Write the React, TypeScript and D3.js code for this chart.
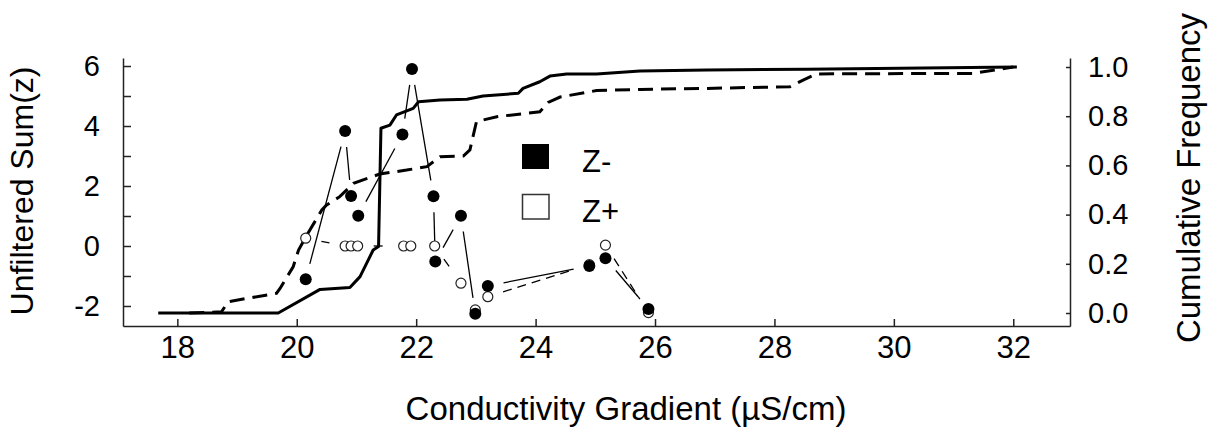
import React, { useEffect, useRef } from "react";
import * as d3 from "d3";

const WIDTH = 1215;
const HEIGHT = 434;
const FONT = "'Liberation Sans', Arial, sans-serif";

// cumulative frequency curves (right axis)
const solidX = [17.68, 19.69, 20.39, 20.89, 21.06, 21.28, 21.37, 21.41, 21.56, 21.67, 21.95, 22.04, 22.4, 22.85, 23.12, 23.71, 23.79, 24.07, 24.24, 24.52, 25.02, 25.75, 26.87, 28.54, 32.06];
const solidF = [0, 0, 0.096, 0.104, 0.148, 0.256, 0.27, 0.751, 0.764, 0.805, 0.832, 0.859, 0.866, 0.869, 0.882, 0.893, 0.913, 0.94, 0.963, 0.972, 0.972, 0.984, 0.988, 0.991, 1.0];
const dashX = [18.2, 18.74, 18.85, 19.66, 19.72, 19.94, 20.03, 20.17, 20.42, 20.5, 20.72, 20.95, 21.39, 21.84, 22.18, 22.4, 22.79, 22.9, 23.01, 23.35, 24.07, 24.21, 24.41, 25.02, 25.75, 26.87, 28.26, 28.48, 28.71, 31.33, 32.0];
const dashF = [0, 0.005, 0.046, 0.08, 0.1, 0.188, 0.256, 0.317, 0.419, 0.439, 0.473, 0.527, 0.565, 0.581, 0.595, 0.635, 0.638, 0.663, 0.778, 0.798, 0.818, 0.856, 0.878, 0.904, 0.909, 0.913, 0.92, 0.947, 0.972, 0.974, 1.0];

// unfiltered sum(z) points (left axis)
const zMinusX = [20.15, 20.81, 20.91, 21.03, 21.77, 21.93, 22.29, 22.32, 22.75, 22.99, 23.2, 24.9, 25.17, 25.89];
const zMinusY = [-1.11, 3.83, 1.67, 1.01, 3.72, 5.9, 1.66, -0.52, 1.01, -2.26, -1.33, -0.67, -0.41, -2.1];
const zPlusX = [20.15, 20.81, 20.91, 21.02, 21.79, 21.91, 22.31, 22.75, 22.99, 23.2, 24.9, 25.17, 25.89];
const zPlusY = [0.26, 0, 0, 0, 0, 0, 0, -1.24, -2.13, -1.69, -0.62, 0.03, -2.22];

const xTicks = [18, 20, 22, 24, 26, 28, 30, 32];
const leftTicks = [-2, -1, 0, 1, 2, 3, 4, 5, 6];
const rightTicks = [0, 0.2, 0.4, 0.6, 0.8, 1.0];

// segments between consecutive points, cut short near each marker
const gapped = (pts: number[][], gap: number) => {
  const segs: number[][] = [];
  for (let i = 1; i < pts.length; i++) {
    const [x1, y1] = pts[i - 1];
    const [x2, y2] = pts[i];
    const d = Math.hypot(x2 - x1, y2 - y1);
    if (d <= gap * 2) continue;
    const ux = (x2 - x1) / d, uy = (y2 - y1) / d;
    segs.push([x1 + ux * gap, y1 + uy * gap, x2 - ux * gap, y2 - uy * gap]);
  }
  return segs;
};

const App = () => {
  const ref = useRef<SVGSVGElement>(null);

  useEffect(() => {
    const svg = d3.select(ref.current);
    svg.selectAll("*").remove();

    const x = d3.scaleLinear().domain([17.09, 32.95]).range([123, 1070]);
    const yL = d3.scaleLinear().domain([-2.667, 6.267]).range([326, 58]);
    const yR = d3.scaleLinear().domain([-0.0528, 1.0366]).range([326, 58]);

    const styleAxis = (g: any, size: number) => {
      g.attr("font-family", FONT).attr("font-size", size);
      g.selectAll("path, line").attr("stroke", "#222").attr("stroke-width", 1.5);
      g.selectAll("text").attr("fill", "#000");
    };

    const gx = svg
      .append("g")
      .attr("transform", "translate(0,326)")
      .call(d3.axisBottom(x).tickValues(xTicks).tickSize(-7).tickSizeOuter(0).tickPadding(10).tickFormat(d3.format("d")));
    styleAxis(gx, 31);

    const gl = svg
      .append("g")
      .attr("transform", "translate(123,0)")
      .call(
        d3.axisLeft(yL).tickValues(leftTicks).tickSize(-8).tickSizeOuter(0).tickPadding(23)
          .tickFormat((d: any) => (d % 2 === 0 ? String(d) : ""))
      );
    styleAxis(gl, 29);

    const gr = svg
      .append("g")
      .attr("transform", "translate(1070,0)")
      .call(d3.axisRight(yR).tickValues(rightTicks).tickSize(-4).tickSizeOuter(0).tickPadding(18).tickFormat(d3.format(".1f")));
    styleAxis(gr, 29);

    // titles
    svg.append("text")
      .attr("transform", "translate(33,191) rotate(-90)")
      .attr("text-anchor", "middle")
      .attr("font-family", FONT)
      .attr("font-size", 32)
      .text("Unfiltered Sum(z)");
    svg.append("text")
      .attr("transform", "translate(1200,178) rotate(-90)")
      .attr("text-anchor", "middle")
      .attr("font-family", FONT)
      .attr("font-size", 33)
      .text("Cumulative Frequency");
    svg.append("text")
      .attr("x", 626)
      .attr("y", 420)
      .attr("text-anchor", "middle")
      .attr("font-family", FONT)
      .attr("font-size", 33)
      .text("Conductivity Gradient (\u00b5S/cm)");

    // cumulative curves
    const line = d3.line<number[]>().x((d) => x(d[0])).y((d) => yR(d[1]));
    svg.append("path")
      .attr("d", line(solidX.map((v, i) => [v, solidF[i]])))
      .attr("fill", "none")
      .attr("stroke", "#000")
      .attr("stroke-width", 3)
      .attr("stroke-linejoin", "round");
    svg.append("path")
      .attr("d", line(dashX.map((v, i) => [v, dashF[i]])))
      .attr("fill", "none")
      .attr("stroke", "#000")
      .attr("stroke-width", 3)
      .attr("stroke-dasharray", "15,8");

    // connectors between markers
    const minusPts = zMinusX.map((v, i) => [x(v), yL(zMinusY[i])]);
    const plusPts = zPlusX.map((v, i) => [x(v), yL(zPlusY[i])]);

    svg.append("g")
      .selectAll("line")
      .data(gapped(plusPts, 16))
      .join("line")
      .attr("x1", (d) => d[0]).attr("y1", (d) => d[1])
      .attr("x2", (d) => d[2]).attr("y2", (d) => d[3])
      .attr("stroke", "#000")
      .attr("stroke-width", 1.3)
      .attr("stroke-dasharray", "9,6");
    svg.append("g")
      .selectAll("line")
      .data(gapped(minusPts, 16))
      .join("line")
      .attr("x1", (d) => d[0]).attr("y1", (d) => d[1])
      .attr("x2", (d) => d[2]).attr("y2", (d) => d[3])
      .attr("stroke", "#000")
      .attr("stroke-width", 1.3);

    // markers
    svg.append("g")
      .selectAll("circle")
      .data(plusPts)
      .join("circle")
      .attr("cx", (d) => d[0])
      .attr("cy", (d) => d[1])
      .attr("r", 5)
      .attr("fill", "#fff")
      .attr("stroke", "#222")
      .attr("stroke-width", 1.2);
    svg.append("g")
      .selectAll("circle")
      .data(minusPts)
      .join("circle")
      .attr("cx", (d) => d[0])
      .attr("cy", (d) => d[1])
      .attr("r", 6)
      .attr("fill", "#000");

    // legend
    const lg = svg.append("g").attr("font-family", FONT).attr("font-size", 31);
    lg.append("rect").attr("x", 522).attr("y", 144).attr("width", 27).attr("height", 25).attr("fill", "#000");
    lg.append("rect").attr("x", 522.5).attr("y", 194.5).attr("width", 26.5).attr("height", 24.5)
      .attr("fill", "#fff").attr("stroke", "#333").attr("stroke-width", 1.5);
    lg.append("text").attr("x", 582).attr("y", 172).text("Z-");
    lg.append("text").attr("x", 582).attr("y", 222).text("Z+");
  }, []);

  return (
    <svg
      ref={ref}
      width={WIDTH}
      height={HEIGHT}
      style={{ position: "absolute", left: 0, top: 0, background: "#fff" }}
    />
  );
};

export default App;
